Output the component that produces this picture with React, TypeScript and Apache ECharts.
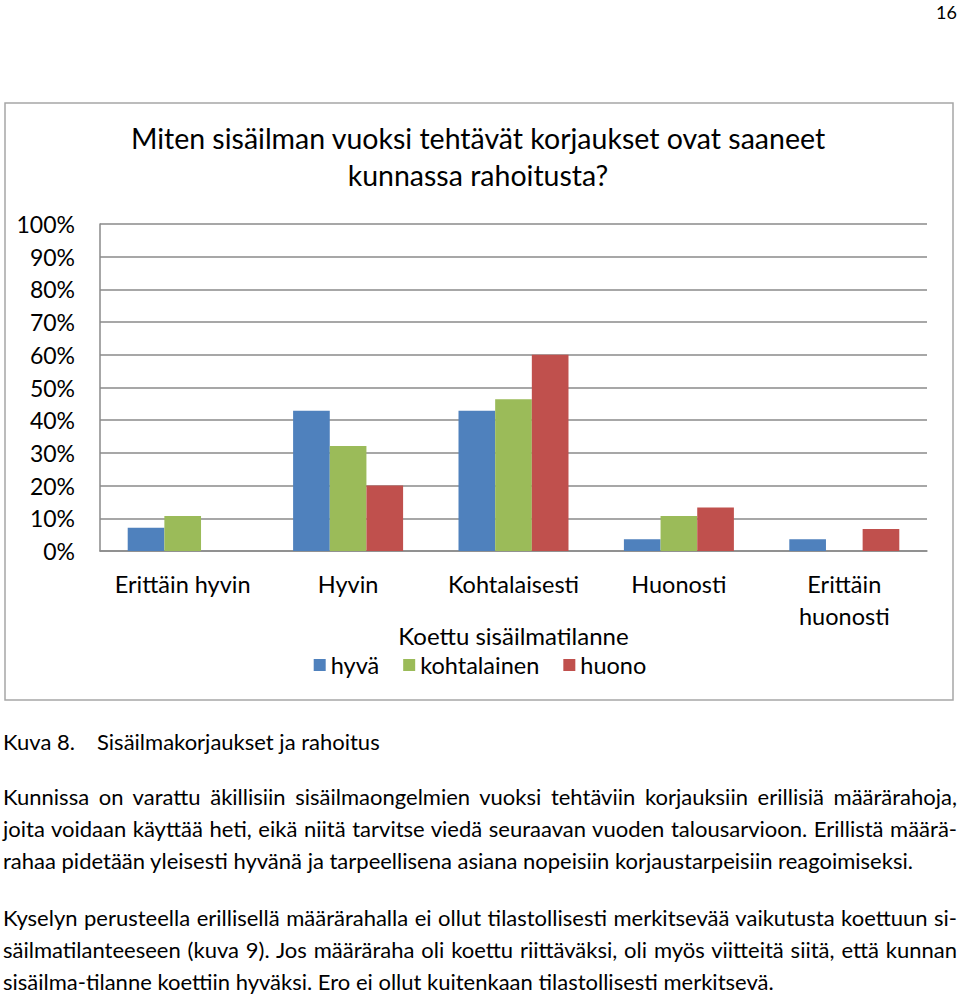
import React, { useEffect, useRef } from "react";
import * as echarts from "echarts";

const categories = ["Erittäin hyvin", "Hyvin", "Kohtalaisesti", "Huonosti", "Erittäin huonosti"];
const seriesNames = ["hyvä", "kohtalainen", "huono"];
const hyva = [7.1, 42.9, 42.9, 3.6, 3.6];
const kohtalainen = [10.7, 32.1, 46.4, 10.7, 0];
const huono = [0, 20, 60, 13.3, 6.7];
const colors = ["#4F81BD", "#9BBB59", "#C0504D"];

const titleText = "Miten sisäilman vuoksi tehtävät korjaukset ovat saaneet\nkunnassa rahoitusta?";
const xAxisTitle = "Koettu sisäilmatilanne";
const pageNumber = "16";

const captionLabel = "Kuva 8.";
const captionText = "Sisäilmakorjaukset ja rahoitus";
const paragraphLines = [
  { text: "Kunnissa on varattu äkillisiin sisäilmaongelmien vuoksi tehtäviin korjauksiin erillisiä määrärahoja,", justify: true },
  { text: "joita voidaan käyttää heti, eikä niitä tarvitse viedä seuraavan vuoden talousarvioon. Erillistä määrä-", justify: true },
  { text: "rahaa pidetään yleisesti hyvänä ja tarpeellisena asiana nopeisiin korjaustarpeisiin reagoimiseksi.", justify: false },
  { text: "Kyselyn perusteella erillisellä määrärahalla ei ollut tilastollisesti merkitsevää vaikutusta koettuun si-", justify: true },
  { text: "säilmatilanteeseen (kuva 9). Jos määräraha oli koettu riittäväksi, oli myös viitteitä siitä, että kunnan", justify: true },
  { text: "sisäilma-tilanne koettiin hyväksi. Ero ei ollut kuitenkaan tilastollisesti merkitsevä.", justify: false },
];
const lineCenters = [797, 829, 861, 918, 950, 982];

const FONT = "Lato, 'Open Sans', sans-serif";

export default function App() {
  const ref = useRef<HTMLDivElement>(null);

  useEffect(() => {
    if (!ref.current) return;
    const chart = echarts.init(ref.current, null, { renderer: "svg" });
    const data = [hyva, kohtalainen, huono];
    chart.setOption({
      animation: false,
      backgroundColor: "#ffffff",
      textStyle: { fontFamily: FONT },
      title: {
        text: titleText,
        left: 473,
        textAlign: "center",
        top: 114,
        textStyle: { fontSize: 28.5, fontWeight: "normal", color: "#000", lineHeight: 37.5, fontFamily: FONT },
      },
      legend: {
        data: seriesNames,
        top: 648,
        left: "center",
        icon: "rect",
        itemWidth: 12,
        itemHeight: 12,
        itemGap: 24,
        textStyle: { fontSize: 23.5, color: "#000", fontFamily: FONT },
      },
      grid: { left: 100, right: 33, top: 224, bottom: 169, containLabel: false },
      xAxis: {
        type: "category",
        data: categories,
        name: xAxisTitle,
        nameLocation: "middle",
        nameGap: 72,
        nameMoveOverlap: false,
        nameTextStyle: { fontSize: 24, color: "#000", fontFamily: FONT },
        axisLine: { show: true, lineStyle: { color: "#8a8a8a", width: 1.5 } },
        axisTick: { show: false },
        axisLabel: {
          interval: 0,
          margin: 17,
          fontSize: 23.5,
          lineHeight: 32,
          color: "#000",
          fontFamily: FONT,
          formatter: (v: string) => (v === "Erittäin huonosti" ? "Erittäin\nhuonosti" : v),
        },
      },
      yAxis: {
        type: "value",
        min: 0,
        max: 100,
        interval: 10,
        axisLine: { show: true, lineStyle: { color: "#8a8a8a", width: 1.5 } },
        axisTick: { show: false },
        splitLine: { show: true, lineStyle: { color: "#8a8a8a", width: 1.5 } },
        axisLabel: { formatter: "{value}%", margin: 25, fontSize: 23, color: "#000", fontFamily: FONT },
      },
      series: seriesNames.map((name, i) => ({
        name,
        type: "bar",
        data: data[i],
        barGap: "0%",
        barCategoryGap: "33.5%",
        itemStyle: { color: colors[i] },
      })),
      graphic: [
        {
          type: "rect",
          shape: { x: 5, y: 103, width: 948, height: 597 },
          style: { fill: "none", stroke: "#a6a6a6", lineWidth: 1.5 },
          silent: true,
        },
        {
          type: "text",
          x: 957,
          y: 12,
          style: { text: pageNumber, fontSize: 18, fill: "#000", align: "right", verticalAlign: "middle", fontFamily: FONT },
        },
      ],
    });
    return () => chart.dispose();
  }, []);

  const textStyleBase: React.CSSProperties = {
    position: "absolute",
    fontFamily: FONT,
    fontSize: 22,
    lineHeight: "28px",
    height: 28,
    color: "#000",
    whiteSpace: "nowrap",
  };

  return (
    <div style={{ position: "absolute", left: 0, top: 0, width: 960, height: 997, background: "#fff", overflow: "hidden" }}>
      <div ref={ref} style={{ position: "absolute", left: 0, top: 0, width: 960, height: 720 }} />
      <div style={{ ...textStyleBase, left: 3, top: 742 - 14 }}>{captionLabel}</div>
      <div style={{ ...textStyleBase, left: 97, top: 742 - 14 }}>{captionText}</div>
      {paragraphLines.map((ln, i) => (
        <div
          key={i}
          style={{
            ...textStyleBase,
            left: 3,
            top: lineCenters[i] - 14,
            width: ln.justify ? 954 : undefined,
            textAlign: ln.justify ? "justify" : "left",
            textAlignLast: ln.justify ? "justify" : "auto",
            whiteSpace: "nowrap",
          } as React.CSSProperties}
        >
          {ln.text}
        </div>
      ))}
    </div>
  );
}
